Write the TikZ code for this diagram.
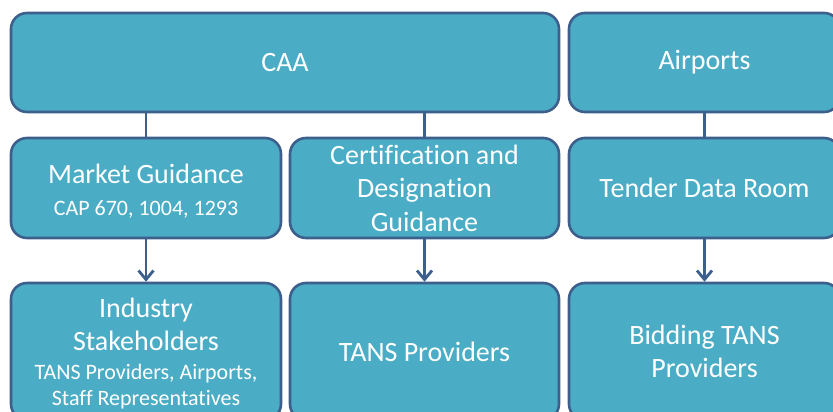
\documentclass[tikz,border=0pt]{standalone}
\usepackage{fontspec}
\setmainfont[Ligatures={NoCommon,NoRare}]{Carlito}
\usetikzlibrary{arrows.meta}
\definecolor{boxfill}{HTML}{4BACC6}
\definecolor{boxline}{RGB}{60,95,140}
\tikzset{
  box/.style={draw=boxline, fill=boxfill, line width=2.6pt, rounded corners=16pt,
    text=white, align=center, inner sep=0pt, font=\fontsize{28}{33.5}\selectfont},
  link/.style={draw=boxline, line width=2.8pt},
  arr/.style={link, -{Straight Barb[length=9pt,width=15pt]}}
}
\newcommand{\smalltxt}{\fontsize{22}{27}\selectfont}
\begin{document}
\begin{tikzpicture}[x=1pt,y=-1pt]
\useasboundingbox (0,0) rectangle (833,412);
\clip (0,0) rectangle (833,412);
% top row
\node[box, minimum width=548pt, minimum height=99pt] (caa) at (285,62.5) {CAA};
\node[box, minimum width=271pt, minimum height=99pt] (air) at (704.5,62.5) {Airports};
% middle row
\node[box, minimum width=270pt, minimum height=100pt] (mkt) at (146,188) {};
\node[text=white, align=center, inner sep=0pt, font=\fontsize{28}{33.5}\selectfont] (mktt) at (146,191) {Market Guidance\\[-1pt]{\smalltxt CAP 670, 1004, 1293}};
\node[box, minimum width=269pt, minimum height=100pt] (cert) at (424.5,188) {Certification and\\Designation\\Guidance};
\node[box, minimum width=271pt, minimum height=100pt] (tdr) at (704.5,188) {Tender Data Room};
% bottom row
\node[box, minimum width=270pt, minimum height=137pt] (ind) at (146,351.5) {};
\node[text=white, align=center, inner sep=0pt, font=\fontsize{28}{33.5}\selectfont] (indt) at (146,353.5) {Industry\\Stakeholders\\[-5pt]{\smalltxt TANS Providers, Airports,}\\[-7pt]{\smalltxt Staff Representatives}};
\node[box, minimum width=269pt, minimum height=137pt] (tans) at (424.5,351.5) {TANS Providers};
\node[box, minimum width=271pt, minimum height=137pt] (bid) at (704.5,351.5) {Bidding TANS\\Providers};
% connectors
\draw[link] (caa.south -| mkt.north) -- (mkt.north);
\draw[link] (caa.south -| cert.north) -- (cert.north);
\draw[link] (air.south -| tdr.north) -- (tdr.north);
\draw[arr] (mkt.south) -- (ind.north);
\draw[arr] (cert.south) -- (tans.north);
\draw[arr] (tdr.south) -- (bid.north);
\end{tikzpicture}
\end{document}
